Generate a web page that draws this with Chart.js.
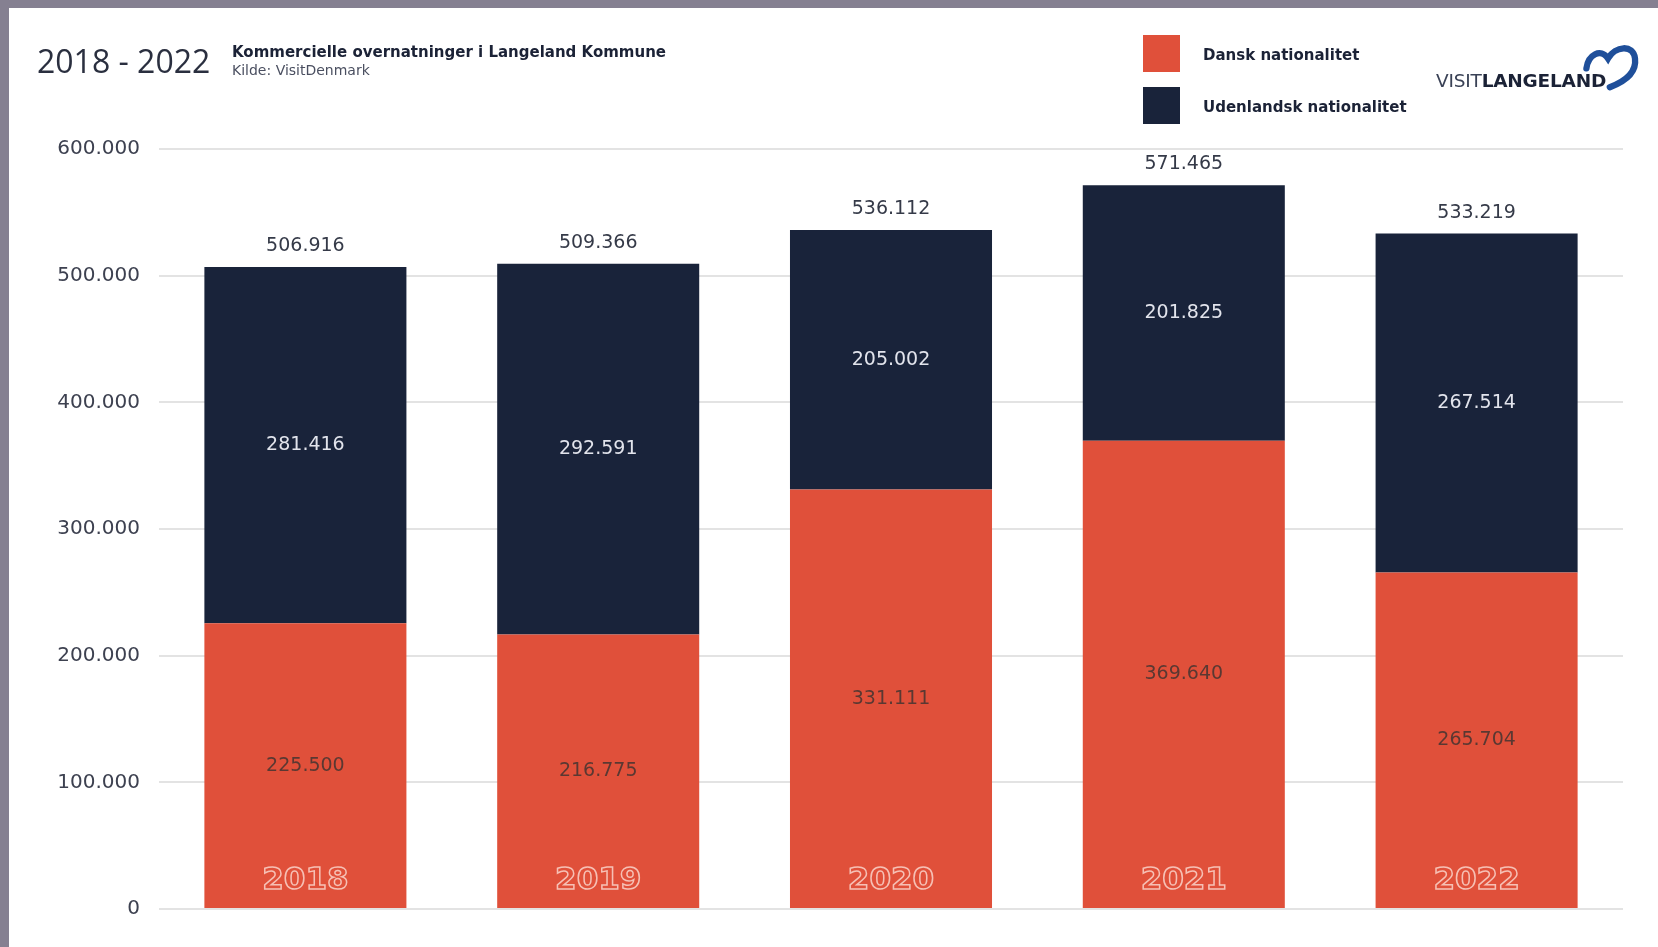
<!DOCTYPE html>
<html>
<head>
<meta charset="utf-8">
<script src="https://cdn.jsdelivr.net/npm/chart.js@4"></script>
<style>
  body { margin: 0; background: #858091; overflow: hidden; }
  #page { position: absolute; left: 9px; top: 8px; width: 1649px; height: 939px; background: #fff; }
  #page div { position: absolute; line-height: 1; white-space: nowrap; color: #1b2236; }
  .sq { width: 37px; height: 37px; }
</style>
</head>
<body>
<div id="page">
  <canvas id="chart" width="1649" height="939"></canvas>
  <div style="left:28px;top:31px;font:32px 'Open Sans',sans-serif;color:#2a2f3f">2018 - 2022</div>
  <div style="left:223px;top:35px;font:bold 15px 'DejaVu Sans',sans-serif;">Kommercielle overnatninger i Langeland Kommune</div>
  <div style="left:223px;top:54px;font:14px 'DejaVu Sans',sans-serif;color:#4a4f60">Kilde: VisitDenmark</div>

  <div class="sq" style="left:1134px;top:27px;background:#e0503a"></div>
  <div class="sq" style="left:1134px;top:79px;background:#19233a"></div>
  <div id="lg0" style="left:1194px;top:38px;font:bold 15px 'DejaVu Sans',sans-serif;"></div>
  <div id="lg1" style="left:1194px;top:90px;font:bold 15px 'DejaVu Sans',sans-serif;"></div>

  <div style="left:1427px;top:62px;font:18.5px 'DejaVu Sans',sans-serif;color:#3a4256;letter-spacing:-0.2px">VISIT<b style="color:#1b2236">LANGELAND</b></div>
  <svg style="position:absolute;left:1563px;top:27px" width="72" height="58.5" viewBox="0 0 80 65">
    <path d="M16 37 C18 22 32 14 40 26 C48 12 68 10 70 26 C72 42 58 52 42 58"
          fill="none" stroke="#1f4f9a" stroke-width="7" stroke-linecap="round"/>
  </svg>
</div>
<script>
const years = ["2018", "2019", "2020", "2021", "2022"];
const dansk = [225500, 216775, 331111, 369640, 265704];
const udenlandsk = [281416, 292591, 205002, 201825, 267514];
const totals = [506916, 509366, 536112, 571465, 533219];
const seriesNames = ["Dansk nationalitet", "Udenlandsk nationalitet"];

document.getElementById("lg0").textContent = seriesNames[0];
document.getElementById("lg1").textContent = seriesNames[1];

function fmt(v) {
  return String(v).replace(/\B(?=(\d{3})+(?!\d))/g, ".");
}

const barLabels = {
  id: "barLabels",
  afterDatasetsDraw(chart) {
    const ctx = chart.ctx;
    ctx.save();
    ctx.textAlign = "center";
    ctx.textBaseline = "middle";
    ctx.font = "19px 'DejaVu Sans', sans-serif";
    chart.data.datasets.forEach((ds, i) => {
      chart.getDatasetMeta(i).data.forEach((bar, j) => {
        ctx.fillStyle = i == 0 ? "#5a3832" : "#e2e4ec";
        ctx.fillText(fmt(ds.data[j]), bar.x, (bar.y + bar.base) / 2);
      });
    });
    // totals on top
    chart.getDatasetMeta(1).data.forEach((bar, j) => {
      ctx.fillStyle = "#353a48";
      ctx.fillText(fmt(totals[j]), bar.x, bar.y - 21);
    });
    // outlined years at the bottom
    ctx.font = "bold 31px 'DejaVu Sans', sans-serif";
    ctx.lineWidth = 1.5;
    ctx.strokeStyle = "#f6c0b5";
    chart.getDatasetMeta(0).data.forEach((bar, j) => {
      ctx.strokeText(years[j], bar.x, bar.base - 27);
    });
    ctx.restore();
  },
};

new Chart(document.getElementById("chart"), {
  type: "bar",
  data: {
    labels: years,
    datasets: [
      {
        label: seriesNames[0],
        data: dansk,
        backgroundColor: "#e0503a",
        categoryPercentage: 1,
        barPercentage: 0.69,
      },
      {
        label: seriesNames[1],
        data: udenlandsk,
        backgroundColor: "#19233a",
        categoryPercentage: 1,
        barPercentage: 0.69,
      },
    ],
  },
  options: {
    responsive: false,
    animation: false,
    layout: {
      padding: { left: 0, top: 141, right: 35, bottom: 38 },
    },
    plugins: {
      legend: { display: false },
      tooltip: { enabled: false },
    },
    scales: {
      x: {
        stacked: true,
        display: false,
      },
      y: {
        stacked: true,
        min: 0,
        max: 600000,
        border: { display: false },
        grid: { color: "#e3e3e3", lineWidth: 2, drawTicks: false },
        afterFit(scale) {
          scale.width = 150;
        },
        ticks: {
          stepSize: 100000,
          padding: 19,
          color: "#3d4150",
          font: { family: "'DejaVu Sans', sans-serif", size: 20 },
          callback: (v) => fmt(v),
        },
      },
    },
  },
  plugins: [barLabels],
});
</script>
</body>
</html>
